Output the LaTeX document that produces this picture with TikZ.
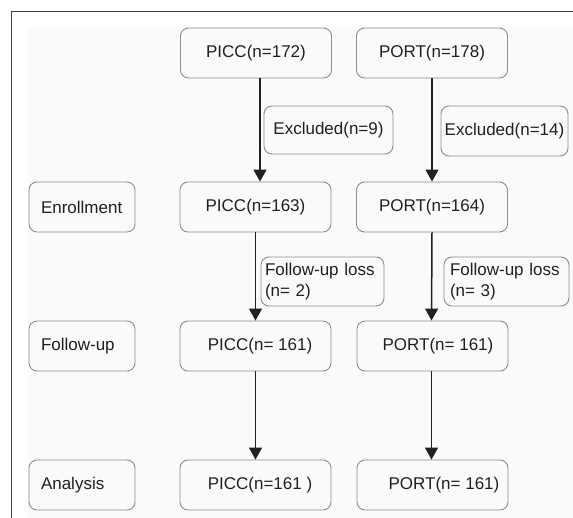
\documentclass[tikz,border=0pt]{standalone}
\usepackage{fontspec}
\setmainfont{Liberation Sans}
\usetikzlibrary{arrows.meta}
\definecolor{boxgray}{HTML}{8C8C8C}
\definecolor{inkdark}{HTML}{231F20}
\begin{document}
\begin{tikzpicture}[x=1pt,y=-1pt,
    box/.style ={draw=boxgray, line width=0.9pt, rounded corners=8pt, minimum height=50pt,
                 inner sep=0pt, text=inkdark, font=\fontsize{17}{21.5}\selectfont},
    stage/.style ={box, text width=82pt, align=left, inner xsep=12pt},
    group/.style ={box, minimum width=151pt},
    excl/.style ={box, minimum width=129pt, minimum height=48pt},
    loss/.style ={box, text width=115pt, align=left, inner xsep=4pt, minimum height=49pt},
    flow/.style ={draw=inkdark, line width=1.5pt, -{Triangle[width=13pt,length=12pt]}}]
   \useasboundingbox (0,0) rectangle (573,518);
   \fill[black!2] (28,27) rectangle (573,518);
   \draw[black!75, line width=1.5pt] (11.5,518) -- (11.5,11.5) -- (573,11.5);
   \node[group] (P0) at (256,53) {PICC(n=172)};
   \node[group] (Q0) at (432,53) {PORT(n=178)};
   \node[excl] (E1) at (328.5,130) {Excluded(n=9)};
   \node[excl, minimum width=127pt, minimum height=50pt] (E2) at (504.5,131) {Excluded(n=14)};
   \node[stage] (S1) at (82,207) {Enrollment};
   \node[group] (P1) at (255.5,207) {PICC(n=163)};
   \node[group] (Q1) at (432,207) {PORT(n=164)};
   \node[loss] (L1) at (322.5,281.5) {Follow-up loss\\(n= 2)};
   \node[loss, text width=113pt, inner xsep=6pt] (L2) at (506.5,281.5) {Follow-up loss\\(n= 3)};
   \node[stage] (S2) at (82,346) {Follow-up};
   \node[group] (P2) at (255.5,346) {\hspace*{9pt}PICC(n= 161)};
   \node[group] (Q2) at (432.5,346) {\hspace*{11pt}PORT(n= 161)};
   \node[stage] (S3) at (82,485) {Analysis};
   \node[group] (P3) at (255.5,485) {\hspace*{9pt}PICC(n=161 )};
   \node[group] (Q3) at (432.5,485) {\hspace*{23pt}PORT(n= 161)};
   \draw[flow] ([xshift=4pt]P0.south) to ([xshift=4.5pt]P1.north);
   \draw[flow] (Q0.south) to (Q1.north);
   \draw[flow] (P1.south) to (P2.north);
   \draw[flow] (Q1.south) to ([xshift=-1pt]Q2.north);
   \draw[flow] (P2.south) to (P3.north);
   \draw[flow] ([xshift=-1pt]Q2.south) to ([xshift=-1pt]Q3.north);
 \end{tikzpicture}
\end{document}
